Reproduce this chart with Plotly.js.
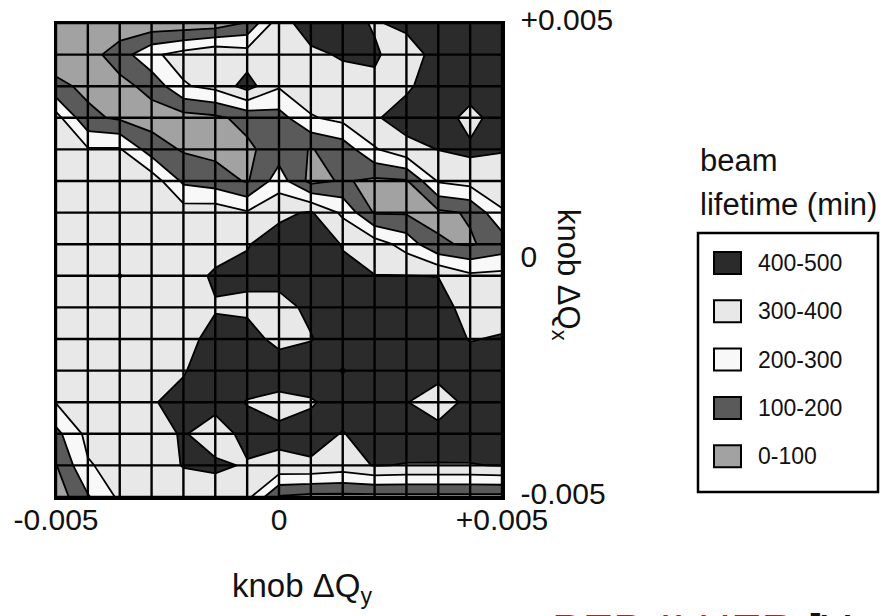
<!DOCTYPE html>
<html>
<head>
<meta charset="utf-8">
<script src="https://cdn.plot.ly/plotly-3.0.1.min.js"></script>
<style>
  html, body { margin: 0; padding: 0; background: #ffffff; }
  #chart { width: 882px; height: 616px; }
</style>
</head>
<body>
<div id="chart"></div>
<script>
// Tune-knob scan of the beam lifetime: rows run from knob dQx = +0.005 (top) down to -0.005.
const knobQy = [-0.005, -0.004286, -0.003571, -0.002857, -0.002143, -0.001429, -0.000714, 0,
                0.000714, 0.001429, 0.002143, 0.002857, 0.003571, 0.004286, 0.005];
const knobQxTopDown = [0.005, 0.004333, 0.003667, 0.003, 0.002333, 0.001667, 0.001, 0.000333,
                       -0.000333, -0.001, -0.001667, -0.002333, -0.003, -0.003667, -0.004333, -0.005];

// Beam lifetime (min) at each scan point, one row per dQx setting.
const lifetimeRows = [
  [ 50,  50,  35,  30,  30,  40, 110, 360, 450, 460, 385, 440, 470, 470, 470],
  [ 50,  60, 150, 280, 340, 390, 350, 360, 380, 410, 420, 320, 460, 470, 470],
  [122,  80,  70, 130, 290, 330, 440, 310, 370, 360, 370, 385, 450, 460, 460],
  [340, 120,  85,  60,  60,  80, 130, 160, 290, 330, 390, 440, 460, 360, 460],
  [350, 310, 310, 150,  90,  70,  80, 150,  95, 140, 290, 370, 402, 420, 405],
  [350, 350, 360, 360, 180, 150,  90, 250,  70, 110,  80,  90, 310, 340, 360],
  [350, 350, 360, 360, 350, 360, 310, 380, 410, 280,  90,  90,  80, 110, 290],
  [350, 350, 360, 360, 360, 370, 395, 440, 460, 395, 350, 260, 110,  90, 140],
  [350, 350, 403, 360, 370, 410, 420, 430, 460, 420, 402, 402, 398, 320, 330],
  [350, 350, 360, 360, 370, 395, 380, 370, 420, 450, 460, 460, 440, 360, 350],
  [350, 350, 355, 360, 380, 420, 440, 370, 395, 450, 470, 470, 450, 395, 410],
  [340, 350, 355, 360, 395, 440, 450, 460, 460, 395, 460, 470, 450, 450, 450],
  [305, 340, 350, 395, 420, 440, 395, 370, 390, 440, 430, 405, 330, 440, 450],
  [170, 330, 350, 360, 410, 340, 440, 420, 440, 395, 450, 460, 450, 460, 460],
  [ 95, 290, 340, 350, 405, 420, 390, 380, 385, 360, 405, 395, 395, 395, 405],
  [ 40, 190, 320, 340, 340, 340, 330,  90,  70,  70,  70,  70,  70,  70,  70]
];

// Lifetime bands, listed from the longest to the shortest as in the key.
const bandLabels = ['400-500', '300-400', '200-300', '100-200', '0-100'];
const bandColors = ['#2b2b2b', '#e8e8e8', '#f8f8f8', '#5a5a5a', '#a2a2a2'];
const bandEdges = [0, 100, 200, 300, 400, 500];

const tickVals = [-0.005, 0, 0.005];
const tickText = ['-0.005', '0', '+0.005'];

// ---------------------------------------------------------------
const FONT = 'Liberation Sans, Arial, Helvetica, sans-serif';
const W = 882, H = 616;
const M = {l: 56, r: 380, t: 23, b: 119};
const plotW = W - M.l - M.r, plotH = H - M.t - M.b;
const px2x = p => (p - M.l) / plotW;
const px2y = p => (H - M.b - p) / plotH;

const qx = knobQxTopDown.slice().reverse();
const z = lifetimeRows.slice().reverse();

// stepped grey scale: one flat colour per lifetime band (lowest band first)
const lowFirst = bandColors.slice().reverse();
const zMin = bandEdges[0], zMax = bandEdges[bandEdges.length - 1];
const colorscale = [];
lowFirst.forEach((c, i) => {
  colorscale.push([(bandEdges[i] - zMin) / (zMax - zMin), c]);
  colorscale.push([(bandEdges[i + 1] - zMin) / (zMax - zMin), c]);
});

const contour = {
  type: 'contour',
  x: knobQy, y: qx, z: z,
  zmin: zMin, zmax: zMax,
  autocontour: false,
  contours: {start: bandEdges[1], end: bandEdges[bandEdges.length - 2], size: bandEdges[1] - bandEdges[0],
             coloring: 'fill', showlines: true},
  line: {color: '#000000', width: 1.8, smoothing: 0},
  colorscale: colorscale,
  showscale: false,
  hoverinfo: 'skip'
};

// mesh of scan points drawn over the filled bands
const gx = [], gy = [];
const qyLo = knobQy[0], qyHi = knobQy[knobQy.length - 1];
const qxLo = qx[0], qxHi = qx[qx.length - 1];
knobQy.forEach(v => { gx.push(v, v, null); gy.push(qxLo, qxHi, null); });
qx.forEach(v => { gx.push(qyLo, qyHi, null); gy.push(v, v, null); });
const mesh = {
  type: 'scatter', mode: 'lines', x: gx, y: gy,
  line: {color: '#000000', width: 2.4},
  hoverinfo: 'skip', showlegend: false
};

// key: boxed swatches with the band labels
const shapes = [];
const annotations = [];
const keyLeft = 698, keyRight = 878, keyTop = 233, keyBottom = 492;
shapes.push({type: 'rect', xref: 'paper', yref: 'paper',
  x0: px2x(keyLeft), x1: px2x(keyRight), y0: px2y(keyBottom), y1: px2y(keyTop),
  line: {color: '#000000', width: 2.5}, fillcolor: 'rgba(0,0,0,0)'});
bandLabels.forEach((lab, i) => {
  const cy = 263 + i * 48.3;
  shapes.push({type: 'rect', xref: 'paper', yref: 'paper',
    x0: px2x(714), x1: px2x(741), y0: px2y(cy + 11), y1: px2y(cy - 11),
    line: {color: '#000000', width: 2}, fillcolor: bandColors[i]});
  annotations.push({xref: 'paper', yref: 'paper', x: px2x(756), y: px2y(cy),
    xanchor: 'left', yanchor: 'middle', showarrow: false, text: lab,
    font: {family: FONT, size: 23, color: '#111111'}});
});
annotations.push({xref: 'paper', yref: 'paper', x: px2x(698), y: px2y(160),
  xanchor: 'left', yanchor: 'middle', showarrow: false, text: 'beam',
  font: {family: FONT, size: 31, color: '#111111'}});
annotations.push({xref: 'paper', yref: 'paper', x: px2x(698), y: px2y(204),
  xanchor: 'left', yanchor: 'middle', showarrow: false, text: 'lifetime (min)',
  font: {family: FONT, size: 31, color: '#111111'}});
// knob titles: horizontal one under the plot, vertical one beside the right-hand scale
annotations.push({xref: 'paper', yref: 'paper', x: px2x(302), y: px2y(588),
  xanchor: 'center', yanchor: 'middle', showarrow: false,
  text: 'knob ΔQ<sub>y</sub>', font: {family: FONT, size: 33, color: '#111111'}});
annotations.push({xref: 'paper', yref: 'paper', x: px2x(566), y: px2y(275),
  xanchor: 'center', yanchor: 'middle', showarrow: false, textangle: 90,
  text: 'knob ΔQ<sub>x</sub>', font: {family: FONT, size: 31, color: '#111111'}});
// source line at the foot of the page
annotations.push({xref: 'paper', yref: 'paper', x: px2x(550), y: px2y(603),
  xanchor: 'left', yanchor: 'top', showarrow: false,
  text: 'PEP-II HER <span style="color:#111111">[Y</span>',
  font: {family: FONT, size: 46, color: '#ff0000'}});

const axisCommon = {
  range: [-0.005, 0.005], tickvals: tickVals, ticktext: tickText,
  ticks: '', showgrid: false, zeroline: false, showline: true, mirror: true,
  linecolor: '#000000', linewidth: 2.5,
  tickfont: {family: FONT, size: 30, color: '#111111'}, fixedrange: true
};

const layout = {
  width: W, height: H, margin: M, autosize: false,
  paper_bgcolor: '#ffffff', plot_bgcolor: '#ffffff',
  showlegend: false,
  xaxis: Object.assign({}, axisCommon, {ticklabelstandoff: -6}),
  yaxis: Object.assign({}, axisCommon, {side: 'right', ticklabelstandoff: 10, ticklabelshift: -4}),
  shapes: shapes,
  annotations: annotations
};

Plotly.newPlot('chart', [contour, mesh], layout, {displayModeBar: false, staticPlot: true});
</script>
</body>
</html>
